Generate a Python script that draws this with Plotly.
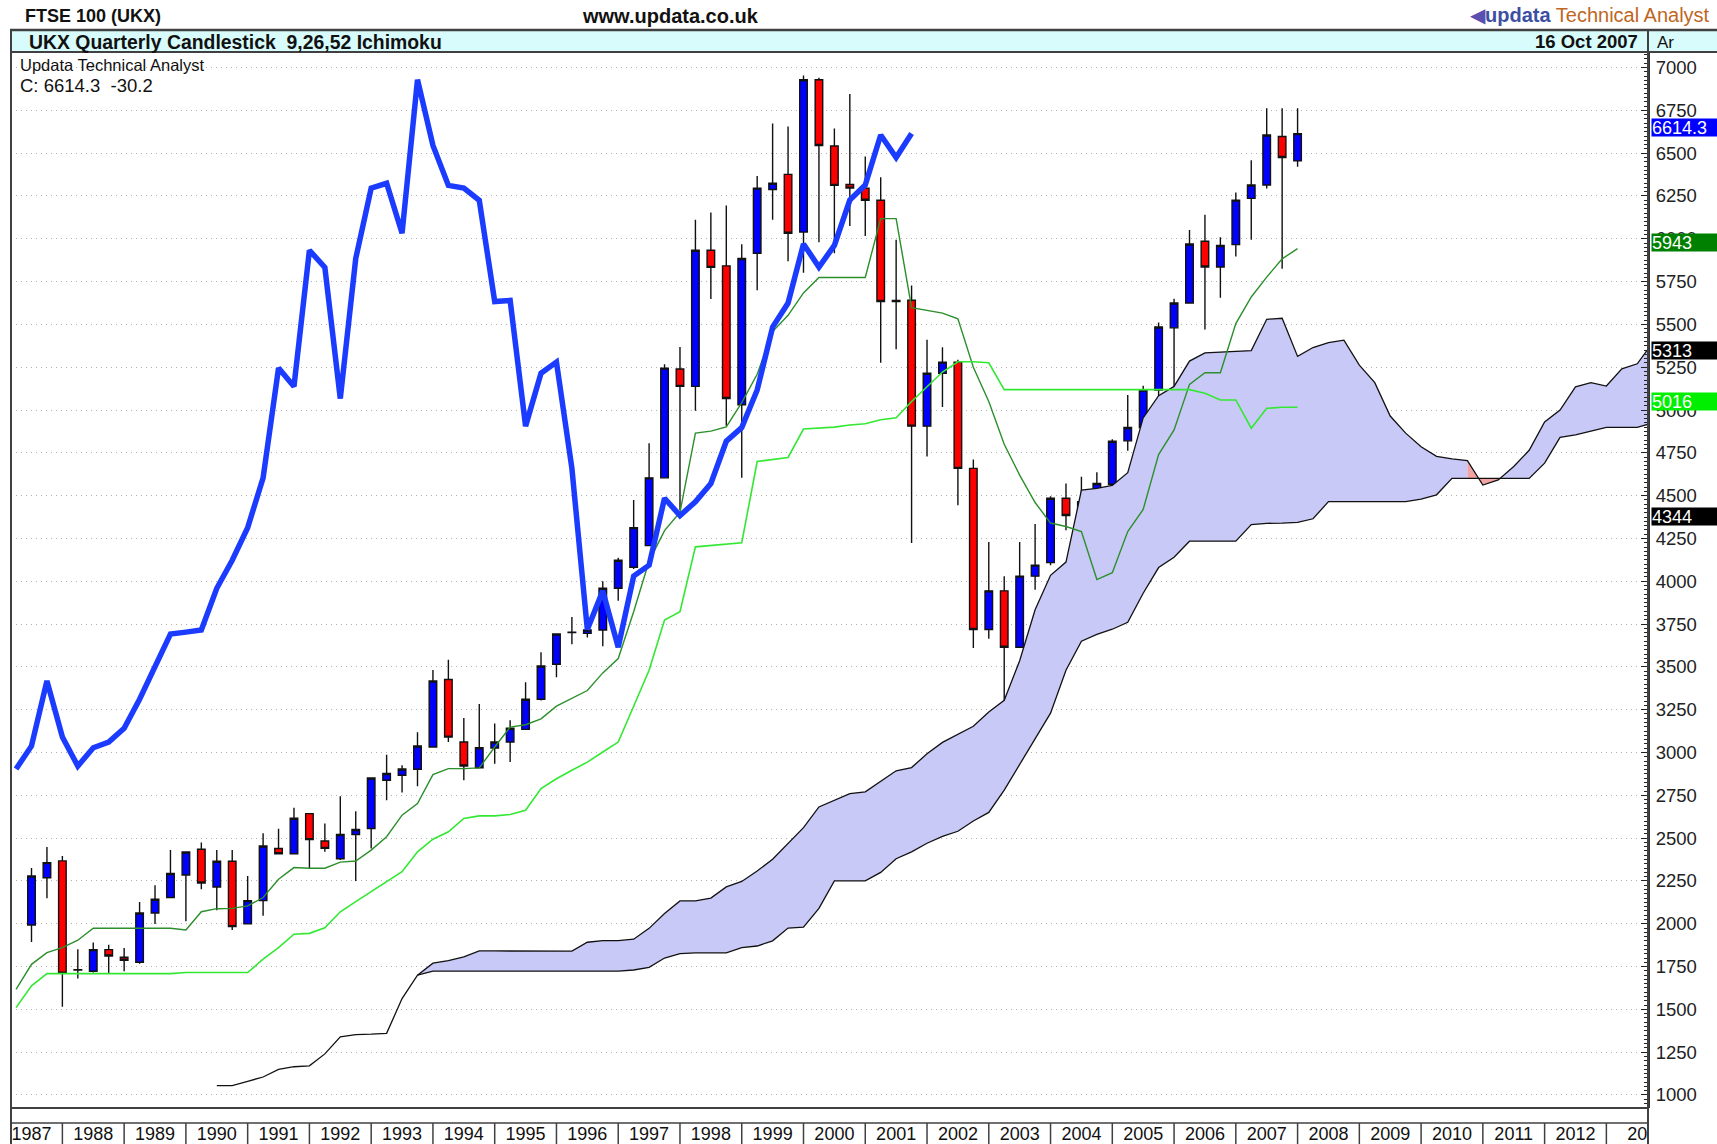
import plotly.graph_objects as go

# ---------------- DATA ----------------
# Quarterly candles, first = 1987 Q2, last = 2007 Q4 (x = quarter end)
candle_start = (1987, 2)
opens = [1993, 2269, 2367, 1730, 1723, 1849, 1804, 1775, 2063, 2153,
         2285, 2435, 2215, 2365, 1999, 2135, 2439, 2409, 2643, 2483,
         2380, 2521, 2556, 2838, 2867, 2902, 3032, 3426, 3061, 2911,
         3026, 3061, 3135, 3311, 3515, 3700, 3696, 3715, 3959, 4082,
         4208, 4604, 5240, 5138, 5933, 5842, 5031, 5916, 6288, 6376,
         6039, 6929, 6542, 6317, 6296, 6225, 5634, 5641, 4906, 5215,
         5280, 4659, 3718, 3944, 3615, 4030, 4109, 4485, 4384, 4464,
         4567, 4820, 4898, 5117, 5480, 5625, 5986, 5835, 5966, 6236,
         6314, 6597, 6455]
highs = [2326, 2448, 2396, 1851, 1890, 1878, 1859, 2127, 2225, 2431,
         2419, 2474, 2431, 2431, 2279, 2528, 2555, 2678, 2643, 2585,
         2745, 2657, 2851, 2987, 2925, 3119, 3482, 3542, 3201, 3284,
         3170, 3189, 3410, 3585, 3692, 3791, 3727, 4000, 4137, 4474,
         4806, 5268, 5368, 6111, 6153, 6194, 5968, 6367, 6673, 6656,
         6953, 6940, 6644, 6846, 6480, 6360, 5995, 5727, 5411, 5366,
         5293, 4711, 4230, 4030, 4230, 4335, 4496, 4571, 4610, 4636,
         4829, 5088, 5142, 5511, 5650, 6052, 6141, 6009, 6271, 6459,
         6762, 6762, 6762]
lows = [1894, 2149, 1515, 1680, 1715, 1711, 1723, 1767, 1999, 2150,
        2014, 2201, 2079, 1964, 1999, 2046, 2409, 2409, 2324, 2420,
        2372, 2250, 2440, 2721, 2766, 2803, 3032, 3061, 2838, 2911,
        2935, 2944, 3135, 3304, 3440, 3632, 3672, 3620, 3886, 4071,
        4208, 4604, 4415, 4996, 5648, 4908, 4604, 5700, 6111, 5869,
        5802, 5980, 5916, 6075, 6017, 5276, 5355, 4223, 4728, 5018,
        4444, 3611, 3665, 3278, 3615, 3950, 4094, 4298, 4367, 4288,
        4556, 4762, 4772, 5030, 5127, 5625, 5470, 5656, 5897, 5994,
        6294, 5825, 6420]
closes = [2279, 2357, 1711, 1731, 1849, 1812, 1787, 2063, 2143, 2293,
          2419, 2238, 2365, 1983, 2135, 2454, 2409, 2616, 2491, 2440,
          2521, 2550, 2851, 2877, 2904, 3038, 3418, 3090, 2921, 3028,
          3061, 3142, 3311, 3505, 3692, 3703, 3715, 3959, 4123, 4313,
          4604, 5245, 5138, 5933, 5833, 5067, 5885, 6296, 6324, 6032,
          6929, 6545, 6312, 6296, 6225, 5634, 5640, 4906, 5215, 5280,
          4659, 3718, 3944, 3615, 4030, 4094, 4485, 4384, 4464, 4571,
          4818, 4898, 5117, 5485, 5625, 5970, 5835, 5961, 6226, 6314,
          6606, 6475, 6614.3]
lag_quarters = 25  # chikou displacement (bars)

# Tenkan-sen (9), quarterly from 1987 Q1 to 2007 Q4
tenkan_start = (1987, 1)
tenkan = [1617, 1763, 1831, 1861, 1904, 1974, 1974, 1974, 1974, 1974,
          1974, 1964, 2070, 2088, 2090, 2104, 2153, 2260, 2328, 2324,
          2324, 2360, 2366, 2430, 2508, 2634, 2702, 2871, 2906, 2906,
          2910, 3032, 3148, 3162, 3197, 3271, 3317, 3362, 3465, 3549,
          3822, 4118, 4296, 4403, 4865, 4877, 4901, 5043, 5209, 5458,
          5553, 5684, 5774, 5774, 5774, 5774, 6118, 6118, 5598, 5580,
          5566, 5533, 5250, 5050, 4800, 4620, 4460, 4340, 4320, 4290,
          4010, 4050, 4290, 4420, 4740, 4884, 5150, 5218, 5218, 5505,
          5660, 5776, 5883, 5943]
# Kijun-sen (26), same quarters
kijun = [1510, 1637, 1709, 1709, 1709, 1709, 1709, 1709, 1709, 1709,
         1709, 1715, 1715, 1715, 1715, 1715, 1793, 1861, 1939, 1944,
         1977, 2070, 2129, 2187, 2246, 2304, 2420, 2494, 2537, 2615,
         2630, 2630, 2638, 2663, 2789, 2847, 2896, 2944, 3003, 3061,
         3270, 3480, 3774, 3822, 4201, 4210, 4220, 4225, 4699, 4710,
         4723, 4889, 4895, 4900, 4913, 4920, 4943, 4955, 5050, 5136,
         5222, 5282, 5282, 5276, 5119, 5119, 5119, 5119, 5119, 5119,
         5119, 5119, 5119, 5119, 5119, 5119, 5119, 5098, 5059, 5059,
         4894, 5010, 5016, 5016]
# Senkou span A, quarterly from 1990 Q2 to 2014 Q1
senkou_a_start = (1990, 2)
senkou_a = [1055, 1055, 1080, 1105, 1150, 1165, 1170, 1240, 1340, 1352,
            1355, 1360, 1563, 1700, 1770, 1785, 1806, 1841, 1841, 1841,
            1841, 1841, 1841, 1840, 1892, 1901, 1902, 1910, 1973, 2060,
            2133, 2134, 2150, 2215, 2247, 2308, 2377, 2469, 2561, 2682,
            2721, 2760, 2770, 2831, 2893, 2912, 2993, 3059, 3106, 3153,
            3236, 3305, 3536, 3834, 4035, 4112, 4533, 4543, 4560, 4634,
            4954, 5084, 5138, 5286, 5334, 5337, 5343, 5347, 5530, 5536,
            5313, 5365, 5394, 5408, 5262, 5160, 4965, 4865, 4785, 4730,
            4715, 4705, 4562, 4592, 4670, 4765, 4930, 5000, 5135, 5160,
            5140, 5240, 5270, 5393, 5450, 5480]
# Senkou span B, quarterly from 1993 Q3 to 2014 Q1
senkou_b_start = (1993, 3)
senkou_b = [1700, 1723, 1723, 1723, 1723, 1723, 1723, 1723, 1723, 1723,
            1723, 1723, 1723, 1723, 1730, 1745, 1800, 1825, 1830, 1830,
            1830, 1860, 1870, 1900, 1975, 1980, 2090, 2250, 2250, 2250,
            2300, 2380, 2420, 2470, 2510, 2540, 2600, 2650, 2780, 2930,
            3080, 3230, 3480, 3650, 3690, 3720, 3760, 3930, 4080, 4140,
            4234, 4234, 4234, 4234, 4331, 4338, 4340, 4344, 4365, 4465,
            4465, 4465, 4465, 4465, 4465, 4480, 4505, 4601, 4601, 4601,
            4601, 4601, 4601, 4690, 4840, 4855, 4875, 4899, 4899, 4899,
            4925, 4930, 4935]

years = list(range(1987, 2014))
year_labels = [str(y) for y in years[:-1]] + ["20"]
y_ticks = list(range(1000, 7001, 250))

# ---------------- helpers ----------------
def qx(start, n):
    y, q = start
    return [y + (q + i) / 4.0 for i in range(n)]

W, H = 1717, 1144
K = 1155.0 / 1144.0          # compensates the vertical squeeze seen in the capture
HF = H * K
PL, PR, PT, PB = 11, 1648, 52, 1108
XR = [1987.168, 2013.674]
YR = [924, 7085]

def px(X):
    return (X - PL) / (PR - PL)

def py(Y):
    return (PB - Y) / (PB - PT)

FONT = "Arial, Liberation Sans, sans-serif"
LAV = "#c9c9f7"
PINK = "#f2a3a3"

cx = qx(candle_start, len(closes))
tx = qx(tenkan_start, len(tenkan))
ax = qx(senkou_a_start, len(senkou_a))
bx = qx(senkou_b_start, len(senkou_b))

fig = go.Figure()

# ---------------- Kumo (cloud) fills ----------------
a_map = dict(zip([round(v, 2) for v in ax], senkou_a))
a_on_b = [a_map[round(v, 2)] for v in bx]
colors = ["lav" if a_on_b[i + 1] >= senkou_b[i + 1] else "pink" for i in range(len(bx) - 1)]
i = 0
while i < len(colors):
    j = i
    while j + 1 < len(colors) and colors[j + 1] == colors[i]:
        j += 1
    xs = bx[i:j + 2]
    ya = a_on_b[i:j + 2]
    yb = senkou_b[i:j + 2]
    fig.add_trace(go.Scatter(
        x=xs + xs[::-1], y=ya + yb[::-1], fill="toself",
        fillcolor=LAV if colors[i] == "lav" else PINK,
        line=dict(width=0), mode="lines", hoverinfo="skip", showlegend=False))
    i = j + 1

fig.add_trace(go.Scatter(x=ax, y=senkou_a, mode="lines",
                         line=dict(color="#111111", width=1.3), showlegend=False))
fig.add_trace(go.Scatter(x=bx, y=senkou_b, mode="lines",
                         line=dict(color="#111111", width=1.3), showlegend=False))

# ---------------- Candles ----------------
fig.add_trace(go.Candlestick(
    x=cx, open=opens, high=highs, low=lows, close=closes,
    increasing=dict(fillcolor="#0000ff", line=dict(color="#111111", width=1.4)),
    decreasing=dict(fillcolor="#ff0000", line=dict(color="#111111", width=1.4)),
    whiskerwidth=0, showlegend=False))

# ---------------- Tenkan / Kijun ----------------
fig.add_trace(go.Scatter(x=tx, y=tenkan, mode="lines",
                         line=dict(color="#2b8f2b", width=1.4), showlegend=False))
fig.add_trace(go.Scatter(x=tx, y=kijun, mode="lines",
                         line=dict(color="#33e833", width=1.6), showlegend=False))

# ---------------- Chikou span (close shifted back, shown over loaded bars) ----------------
ch_pts = [(v - lag_quarters / 4.0, c) for v, c in zip(cx, closes) if v - lag_quarters / 4.0 >= tx[0]]
fig.add_trace(go.Scatter(x=[p[0] for p in ch_pts], y=[p[1] for p in ch_pts], mode="lines",
                         line=dict(color="#1b3cff", width=5.5), showlegend=False))

# ---------------- Axes ----------------
fig.update_xaxes(range=XR, showgrid=False, zeroline=False, showline=False,
                 rangeslider=dict(visible=False),
                 tickmode="array", tickvals=[y + 0.5 for y in years], ticktext=year_labels,
                 ticks="", tickfont=dict(family=FONT, size=18, color="#111111"),
                 ticklabelstandoff=13)
fig.update_yaxes(range=YR, side="right", zeroline=False,
                 tickmode="array", tickvals=y_ticks, ticktext=[str(v) for v in y_ticks],
                 tickfont=dict(family=FONT, size=18.5, color="#222222"),
                 showgrid=True, gridcolor="#b0b0b0", griddash="1px,4px", gridwidth=1,
                 ticks="inside", ticklen=7, tickcolor="#222222", tickwidth=1,
                 minor=dict(ticks="inside", ticklen=4, dtick=25, tickcolor="#222222",
                            showgrid=False),
                 showline=True, linecolor="#333333", linewidth=2,
                 ticklabelstandoff=2)

# ---------------- Frame / header shapes ----------------
shapes = []
shapes.append(dict(type="rect", xref="paper", yref="paper", x0=px(11), x1=px(1717),
                   y0=py(51), y1=py(30), fillcolor="#d8fbfb", line=dict(width=0), layer="below"))
def hline(Y, x0, x1, w, c="#404040"):
    shapes.append(dict(type="line", xref="paper", yref="paper", x0=px(x0), x1=px(x1),
                       y0=py(Y), y1=py(Y), line=dict(color=c, width=w)))
def vline(X, y0, y1, w, c="#404040"):
    shapes.append(dict(type="line", xref="paper", yref="paper", x0=px(X), x1=px(X),
                       y0=py(y0), y1=py(y1), line=dict(color=c, width=w)))
hline(29, 10, 1717, 2.5)
hline(51, 10, 1717, 2)
hline(1108, 10, 1648, 2)
hline(1123, 10, 1648, 1.5)
vline(11, 28, 1146, 2)
vline(1648, 28, 1146, 2)
for y in years + [2014]:
    shapes.append(dict(type="line", xref="x", yref="paper", x0=y, x1=y,
                       y0=py(1123), y1=py(1146), line=dict(color="#404040", width=1.5)))
fig.update_layout(shapes=shapes)

# ---------------- Text ----------------
ann = []
def txt(X, Y, s, size, anchor="left", bold=False, color="#111111"):
    ann.append(dict(xref="paper", yref="paper", x=px(X), y=py(Y), text=(f"<b>{s}</b>" if bold else s),
                    showarrow=False, xanchor=anchor, yanchor="middle",
                    font=dict(family=FONT, size=size, color=color)))
txt(23, 15, "FTSE 100 (UKX)", 18, bold=True)
txt(670, 15, "www.updata.co.uk", 20, anchor="center", bold=True)
ann.append(dict(xref="paper", yref="paper", x=px(1712), y=py(14),
                text='<span style="color:#5b4fb0">◀</span><b><span style="color:#3c4fa3">updata</span></b>'
                     '<span style="color:#c0661f"> Technical Analyst</span>',
                showarrow=False, xanchor="right", yanchor="middle",
                font=dict(family=FONT, size=20, color="#c0661f")))
txt(27, 40.5, "UKX Quarterly Candlestick&nbsp; 9,26,52 Ichimoku", 19.4, bold=True)
txt(1640, 40.5, "16 Oct 2007", 18.5, anchor="right", bold=True)
txt(1655, 41, "Ar", 17)
txt(18, 64, "Updata Technical Analyst", 16.5)
txt(18, 85, f"C: {closes[-1]:.1f}&nbsp; -30.2", 18.5)

# value flags on the price axis
flags = [
    (closes[-1], f"{closes[-1]:.1f}", "#0000ff"),
    (tenkan[-1], f"{tenkan[-1]:.0f}", "#008000"),
    (senkou_a[ax.index(2008.0)], f"{senkou_a[ax.index(2008.0)]:.0f}", "#000000"),
    (kijun[-1], f"{kijun[-1]:.0f}", "#00ee00"),
    (senkou_b[bx.index(2008.0)], f"{senkou_b[bx.index(2008.0)]:.0f}", "#000000"),
]
for val, label, bg in flags:
    ann.append(dict(xref="paper", yref="y", x=1, y=val, xshift=3, yshift=6, text=label,
                    showarrow=False, xanchor="left", yanchor="middle", align="left",
                    width=66, height=17, bgcolor=bg, borderpad=0,
                    font=dict(family=FONT, size=18, color="#ffffff")))
fig.update_layout(annotations=ann)

fig.update_layout(
    width=W, height=HF, autosize=False,
    margin=dict(l=PL, r=W - PR, t=PT * K, b=HF - PB * K, pad=0),
    paper_bgcolor="#ffffff", plot_bgcolor="#ffffff",
    showlegend=False, hovermode=False,
)

post = ("var gd=document.getElementById('{plot_id}');"
        "gd.style.position='absolute';gd.style.top='0px';gd.style.left='0px';"
        "document.body.style.margin='0px';document.body.style.overflow='hidden';"
        "document.documentElement.style.overflow='hidden';")
fig.write_html("out.html", config={"displayModeBar": False, "responsive": False},
               post_script=post)
